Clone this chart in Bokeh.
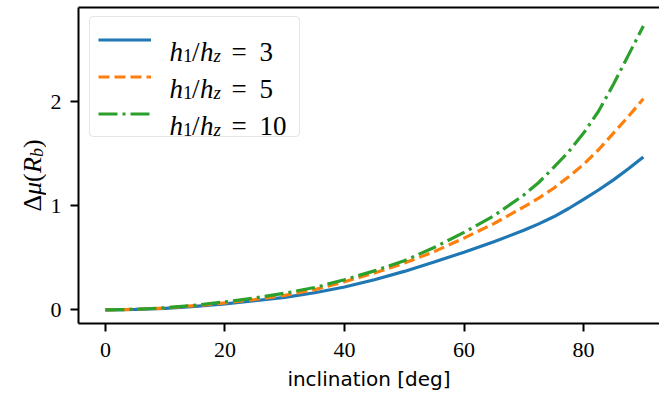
import math
from bokeh.plotting import figure
from bokeh.layouts import row
from bokeh.models import (Range1d, LinearAxis, FixedTicker, Legend, LegendItem,
                          Label, ColumnDataSource)
from bokeh.embed import file_html
from bokeh.resources import INLINE

# ---------------- data ----------------
incl = [0, 5, 10, 15, 20, 25, 30, 35, 40, 45, 50, 55, 60, 65, 70,
        72.5, 75, 77.5, 80, 82.5, 85, 87.5, 90]
mu_h3 = [0, 0.004, 0.015, 0.034, 0.058, 0.088, 0.12, 0.165, 0.22, 0.29, 0.37,
         0.46, 0.555, 0.655, 0.765, 0.827, 0.895, 0.975, 1.062, 1.153, 1.25, 1.357, 1.47]
mu_h5 = [0, 0.005, 0.018, 0.04, 0.068, 0.10, 0.14, 0.195, 0.27, 0.355, 0.45,
         0.56, 0.69, 0.83, 0.99, 1.075, 1.17, 1.28, 1.40, 1.54, 1.70, 1.86, 2.03]
mu_h10 = [0, 0.005, 0.02, 0.045, 0.077, 0.115, 0.16, 0.215, 0.29, 0.375, 0.473,
          0.60, 0.745, 0.905, 1.105, 1.225, 1.37, 1.52, 1.70, 1.91, 2.17, 2.45, 2.73]
ratios = ["3", "5", "10"]
x_ticks = [0, 20, 40, 60, 80]
y_ticks = [0, 1, 2]
x_label = "inclination [deg]"

colors = ["#1f77b4", "#ff7f0e", "#2ca02c"]
dashes = ["solid", "11 5", "19 5 3 5"]

W, H = 659, 396
LW = 46                          # width of the strip holding the y label
FL, FT, FB = 78, 7, 323          # frame left / top / bottom in canvas px
serif = "Liberation Serif"

# ---------------- y-label strip ----------------
lf = figure(frame_width=LW, frame_height=H, output_backend="svg",
            toolbar_location=None, x_range=Range1d(0, LW), y_range=Range1d(0, H),
            min_border_left=0, min_border_right=0, min_border_top=0,
            min_border_bottom=0, outline_line_color=None,
            background_fill_color="white", border_fill_color="white")
lf.axis.visible = False
lf.grid.visible = False

def put_strip(text, cx, cy, size, style="normal"):
    lf.add_layout(Label(x=cx, y=H - cy, text=text, text_font=serif,
                        text_font_size=size, text_font_style=style,
                        text_color="black", text_align="left",
                        text_baseline="alphabetic", angle=math.pi / 2))

put_strip("Δ", 32, 204, "26px")
put_strip("μ", 32, 187.5, "26px", "italic")
put_strip("(", 32, 174.5, "26px")
put_strip("R", 32, 165.5, "26px", "italic")
put_strip("b", 36, 149.5, "18px", "italic")
put_strip(")", 32, 140.5, "26px")

# ---------------- main figure ----------------
p = figure(width=W - LW, height=H, output_backend="svg", toolbar_location=None,
           x_range=Range1d(-4.5, 92.7), y_range=Range1d(-0.131, 2.908),
           min_border_left=FL - LW, min_border_right=0, min_border_top=FT,
           min_border_bottom=H - FB, outline_line_color=None,
           background_fill_color="white", border_fill_color="white")
p.grid.visible = False

for ax in (p.xaxis[0], p.yaxis[0]):
    ax.axis_line_width = 2
    ax.axis_line_color = "black"
    ax.major_tick_line_width = 2
    ax.major_tick_line_color = "black"
    ax.major_tick_out = 8
    ax.major_tick_in = 0
    ax.minor_tick_out = 0
    ax.minor_tick_in = 0
    ax.major_label_text_font = serif
    ax.major_label_text_font_size = "22px"
    ax.major_label_text_color = "black"

p.xaxis[0].ticker = FixedTicker(ticks=x_ticks)
p.yaxis[0].ticker = FixedTicker(ticks=y_ticks)
p.xaxis[0].major_label_standoff = 11
p.yaxis[0].major_label_standoff = 9
p.xaxis[0].axis_label = x_label
p.xaxis[0].axis_label_text_font = "DejaVu Sans"
p.xaxis[0].axis_label_text_font_size = "20px"
p.xaxis[0].axis_label_text_font_style = "normal"
p.xaxis[0].axis_label_text_color = "black"
p.xaxis[0].axis_label_standoff = 7

top = LinearAxis(ticker=FixedTicker(ticks=[]), major_label_text_font_size="0px",
                 major_tick_out=0, major_tick_in=0, minor_tick_out=0, minor_tick_in=0,
                 axis_line_width=2, axis_line_color="black")
p.add_layout(top, "above")

# ---------------- curves ----------------
src = ColumnDataSource(dict(x=incl, a=mu_h3, b=mu_h5, c=mu_h10))
rends = []
for col, c, d in zip(["a", "b", "c"], colors, dashes):
    r = p.line("x", col, source=src, line_color=c, line_width=3.2, line_dash=d)
    rends.append(r)

# ---------------- legend (box + samples) ----------------
leg = Legend(items=[LegendItem(label=" ", renderers=[r]) for r in rends],
             location=(11, 316 - 11 - 119), margin=0, padding=8, spacing=8,
             glyph_width=53, glyph_height=29, label_height=29, label_width=130,
             label_standoff=10, label_text_font_size="10px",
             border_line_color="#cccccc", border_line_width=1.5,
             border_radius=4,
             background_fill_color="white", background_fill_alpha=0.0)
p.add_layout(leg)

def put(text, cx, cy, size, style="normal"):
    p.add_layout(Label(x=cx - FL, y=FB - cy, x_units="screen", y_units="screen",
                       text=text, text_font=serif, text_font_size=size,
                       text_font_style=style, text_color="black",
                       text_align="left", text_baseline="alphabetic",
                       level="overlay"))

row_base = [51, 88, 125]
for val, yb in zip(ratios, row_base):
    put("h", 169, yb, "27px", "italic")
    put("1", 182.5, yb + 4, "19px")
    put("/", 191.5, yb, "27px")
    put("h", 199.5, yb, "27px", "italic")
    put("z", 213, yb + 4, "19px", "italic")
    put("=", 231, yb, "27px")
    put(val, 259, yb, "27px")

layout = row(lf, p, spacing=0)
open("out.html", "w").write(file_html(layout, INLINE))
